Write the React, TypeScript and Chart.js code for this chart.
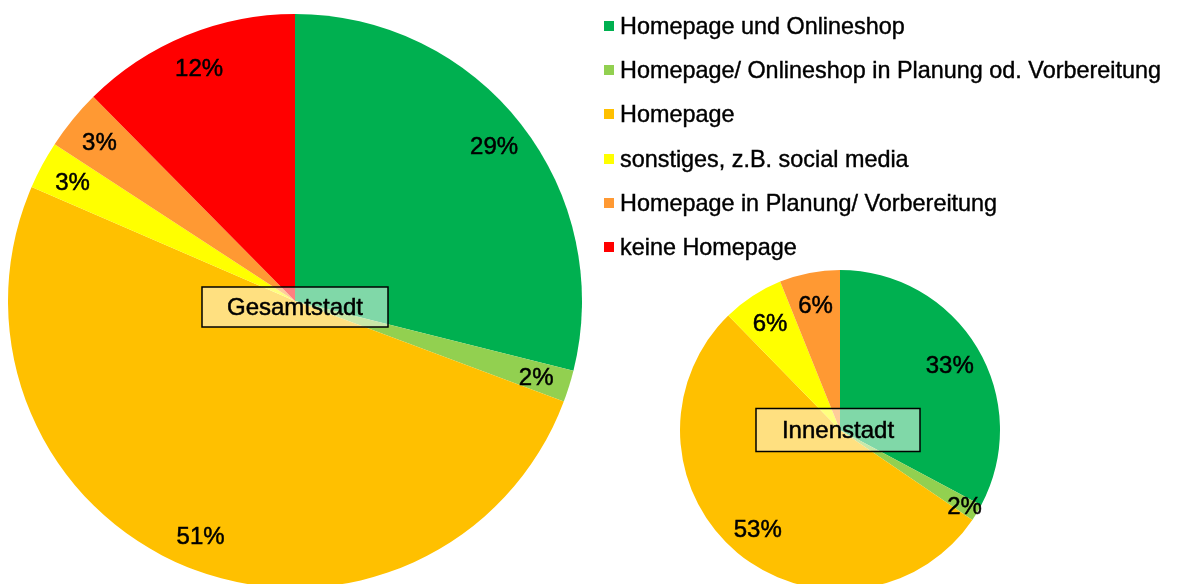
import React, { useEffect, useRef } from "react";
import { Chart, registerables } from "chart.js";

Chart.register(...registerables);

const categories = [
  "Homepage und Onlineshop",
  "Homepage/ Onlineshop in Planung od. Vorbereitung",
  "Homepage",
  "sonstiges, z.B. social media",
  "Homepage in Planung/ Vorbereitung",
  "keine Homepage",
];
const gesamtstadtValues = [28.9, 1.8, 50.8, 2.7, 3.4, 12.4];
const innenstadtValues = [32.8, 1.7, 53.2, 6.2, 6.1, 0];
const chartTitles = ["Gesamtstadt", "Innenstadt"];
const sliceColors = ["#00B050", "#92D050", "#FFC000", "#FFFF00", "#FF9933", "#FF0000"];

const FONT = '"Liberation Sans", Arial, sans-serif';

const pieLabelsPlugin = {
  id: "pieLabels",
  afterDatasetsDraw(chart: any, _args: any, opts: any) {
    const meta = chart.getDatasetMeta(0);
    const ctx = chart.ctx;
    const values = chart.data.datasets[0].data as number[];
    ctx.save();
    ctx.font = `${opts.fontSize}px ${FONT}`;
    ctx.fillStyle = "#000";
    ctx.strokeStyle = "#000";
    ctx.lineWidth = 0.5;
    ctx.textAlign = "center";
    ctx.textBaseline = "middle";
    meta.data.forEach((arc: any, i: number) => {
      const v = values[i];
      if (!v) return;
      const p = arc.getProps(["x", "y", "startAngle", "endAngle", "outerRadius"], true);
      const mid = (p.startAngle + p.endAngle) / 2;
      const ratio = v < opts.smallLimit ? opts.smallRatio : opts.ratio;
      const r = p.outerRadius * ratio;
      const txt = Math.round(v) + "%";
      const x = p.x + Math.cos(mid) * r;
      const y = p.y + Math.sin(mid) * r + 2;
      ctx.fillText(txt, x, y);
      ctx.strokeText(txt, x, y);
    });
    const first = meta.data[0];
    const cx = first.x + opts.boxDx;
    const cy = first.y + opts.boxDy;
    const w = opts.boxW;
    const h = opts.boxH;
    ctx.fillStyle = "rgba(255,255,255,0.5)";
    ctx.fillRect(cx - w / 2, cy - h / 2, w, h);
    ctx.strokeStyle = "#000";
    ctx.lineWidth = 1.5;
    ctx.strokeRect(cx - w / 2, cy - h / 2, w, h);
    ctx.fillStyle = "#000";
    ctx.lineWidth = 0.5;
    ctx.fillText(opts.title, cx, cy + 1);
    ctx.strokeText(opts.title, cx, cy + 1);
    ctx.restore();
  },
};

function makeChart(canvas: HTMLCanvasElement, values: number[], padding: any, labelOpts: any) {
  return new Chart(canvas, {
    type: "pie",
    data: {
      labels: categories,
      datasets: [
        {
          data: values,
          backgroundColor: sliceColors,
          borderWidth: 0,
        },
      ],
    },
    options: {
      animation: false,
      responsive: false,
      devicePixelRatio: 1,
      layout: { padding },
      plugins: {
        legend: { display: false },
        tooltip: { enabled: false },
        pieLabels: labelOpts,
      } as any,
    },
    plugins: [pieLabelsPlugin],
  });
}

export default function App() {
  const bigRef = useRef<HTMLCanvasElement>(null);
  const smallRef = useRef<HTMLCanvasElement>(null);

  useEffect(() => {
    document.body.style.margin = "0";
    document.body.style.overflow = "hidden";
    const c1 = makeChart(
      bigRef.current!,
      gesamtstadtValues,
      { left: 8, right: 18, top: 14, bottom: 12 },
      {
        fontSize: 24,
        ratio: 0.88,
        smallRatio: 0.885,
        smallLimit: 0,
        title: chartTitles[0],
        boxDx: 0,
        boxDy: 6,
        boxW: 186,
        boxH: 40,
      }
    );
    const c2 = makeChart(
      smallRef.current!,
      innenstadtValues,
      { left: 20, right: 20, top: 20, bottom: 20 },
      {
        fontSize: 24,
        ratio: 0.8,
        smallRatio: 0.91,
        smallLimit: 5,
        title: chartTitles[1],
        boxDx: -2,
        boxDy: 0,
        boxW: 164,
        boxH: 43,
      }
    );
    return () => {
      c1.destroy();
      c2.destroy();
    };
  }, []);

  return (
    <div
      style={{
        position: "relative",
        width: 1180,
        height: 584,
        overflow: "hidden",
        background: "#fff",
      }}
    >
      <canvas
        ref={bigRef}
        width={600}
        height={600}
        style={{ position: "absolute", left: 0, top: 0, width: 600, height: 600 }}
      />
      <canvas
        ref={smallRef}
        width={360}
        height={360}
        style={{ position: "absolute", left: 660, top: 250, width: 360, height: 360 }}
      />
      <div
        style={{
          position: "absolute",
          left: 604,
          top: 4,
          fontFamily: FONT,
          fontSize: 23.4,
          color: "#000",
          WebkitTextStroke: "0.4px #000",
        }}
      >
        {categories.map((c, i) => (
          <div
            key={c}
            style={{
              height: 44.2,
              lineHeight: "44.2px",
              display: "flex",
              alignItems: "center",
              whiteSpace: "nowrap",
            }}
          >
            <span
              style={{
                display: "inline-block",
                width: 10,
                height: 10,
                background: sliceColors[i],
                marginRight: 6,
                flex: "none",
              }}
            />
            <span>{c}</span>
          </div>
        ))}
      </div>
    </div>
  );
}
